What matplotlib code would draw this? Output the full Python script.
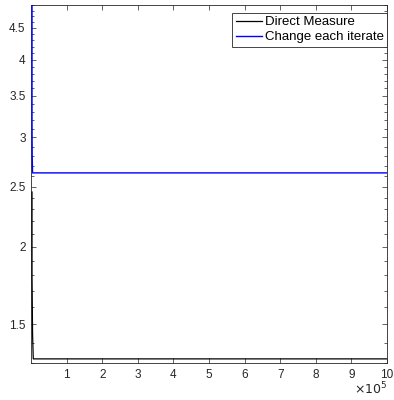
import numpy as np
import matplotlib
matplotlib.use("Agg")
import matplotlib.pyplot as plt
from matplotlib import ticker

# data (iterations vs value)
direct_x = [2500, 2500, 4000, 6000, 1000000]
direct_y = [2.45, 1.8, 1.45, 1.32, 1.32]
iter_x = [2500, 2500, 3000, 4000, 1000000]
iter_y = [5.5, 3.2, 2.8, 2.63, 2.63]

ytick_vals = [1.5, 2, 2.5, 3, 3.5, 4, 4.5]
xtick_vals = [1e5, 2e5, 3e5, 4e5, 5e5, 6e5, 7e5, 8e5, 9e5, 1e6]

plt.rcParams['font.family'] = ['Liberation Sans', 'DejaVu Sans']

fig = plt.figure(figsize=(3.94, 4.0), dpi=100)
ax = fig.add_axes([0.079, 0.0925, 0.903, 0.895])

ax.plot(direct_x, direct_y, color='black', lw=0.9, label='Direct Measure', zorder=3)
ax.plot(iter_x, iter_y, color='blue', lw=1.0, label='Change each iterate', zorder=3)

ax.set_yscale('log')
ax.set_xlim(0, 1e6)
ax.set_ylim(1.30, 4.90)

ax.yaxis.set_major_locator(ticker.FixedLocator(ytick_vals))
ax.yaxis.set_major_formatter(ticker.FixedFormatter([str(v) for v in ytick_vals]))
ax.yaxis.set_minor_locator(ticker.FixedLocator(np.arange(1.3, 4.95, 0.1)))
ax.yaxis.set_minor_formatter(ticker.NullFormatter())

ax.xaxis.set_major_locator(ticker.FixedLocator(xtick_vals))
ax.xaxis.set_major_formatter(ticker.FuncFormatter(lambda v, p: '%d' % round(v / 1e5)))

ax.tick_params(which='both', direction='in', top=True, right=True,
               colors='#262626', labelsize=8.5, pad=4)
ax.tick_params(which='major', length=3.5, width=0.5)
ax.tick_params(which='minor', length=2, width=0.5)
for s in ax.spines.values():
    s.set_color('#262626')
    s.set_linewidth(0.6)

ax.text(1.0, -0.05, r'$\times10^{5}$', transform=ax.transAxes,
        ha='right', va='top', fontsize=9, color='#262626')

leg = ax.legend(loc='upper right', bbox_to_anchor=(1.0, 0.978), fontsize=9.5,
                fancybox=False, framealpha=1, edgecolor='#262626',
                borderpad=0.25, handlelength=2.0, handletextpad=0.2,
                borderaxespad=0.0, labelspacing=0.2)
leg.get_frame().set_linewidth(0.6)

fig.savefig('out.png', dpi=100)
